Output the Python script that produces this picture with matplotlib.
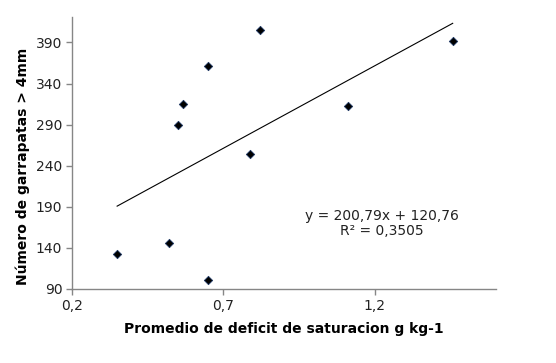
import numpy as np
import matplotlib
matplotlib.use("Agg")
import matplotlib.pyplot as plt

# datos
deficit = [0.349, 0.521, 0.650, 0.549, 0.566, 0.650, 0.787, 0.821, 1.112, 1.457]
garrapatas = [132, 146, 101, 289, 315, 361, 254, 405, 313, 392]

# coeficientes de la linea de tendencia
pendiente = 200.79
intercepto = 120.76
r2 = 0.3505

xticks = [0.2, 0.7, 1.2]
yticks = [90, 140, 190, 240, 290, 340, 390]

plt.rcParams["font.family"] = ["DejaVu Sans"]

fig = plt.figure(figsize=(5.56, 3.63), dpi=100)
ax = fig.add_axes([72 / 556, 1 - 289 / 363, (496 - 72) / 556, (289 - 17) / 363])

ax.scatter(deficit, garrapatas, marker="D", s=18, color="black",
           edgecolors="#1f3864", linewidths=0.6, zorder=3)

xs = np.array([min(deficit), max(deficit)])
ax.plot(xs, pendiente * xs + intercepto, color="black", lw=0.8)

ax.set_xlim(0.2, 1.6)
ax.set_ylim(90, 421)
ax.set_xticks(xticks)
ax.set_xticklabels([str(t).replace(".", ",") for t in xticks])
ax.set_yticks(yticks)
ax.set_yticklabels([str(t) for t in yticks])

for s in ["top", "right"]:
    ax.spines[s].set_visible(False)
for s in ["left", "bottom"]:
    ax.spines[s].set_color("#868686")
    ax.spines[s].set_linewidth(1.0)
ax.tick_params(axis="both", direction="out", length=4, width=1.0,
               color="#868686", labelsize=10, pad=3, labelcolor="#222222")

ax.set_xlabel("Promedio de deficit de saturacion g kg-1", fontsize=10,
              fontweight="bold", labelpad=7)
ax.set_ylabel("Número de garrapatas > 4mm", fontsize=10,
              fontweight="bold", labelpad=1)
ax.yaxis.set_label_coords(-0.1, 0.45)

ax.text(1.222, 170, "y = %sx + %s\nR² = %s" % (
    str(pendiente).replace(".", ","), str(intercepto).replace(".", ","),
    str(r2).replace(".", ",")),
    ha="center", va="center", fontsize=10, linespacing=1.1, color="#222222")

fig.savefig("out.png", dpi=100)
